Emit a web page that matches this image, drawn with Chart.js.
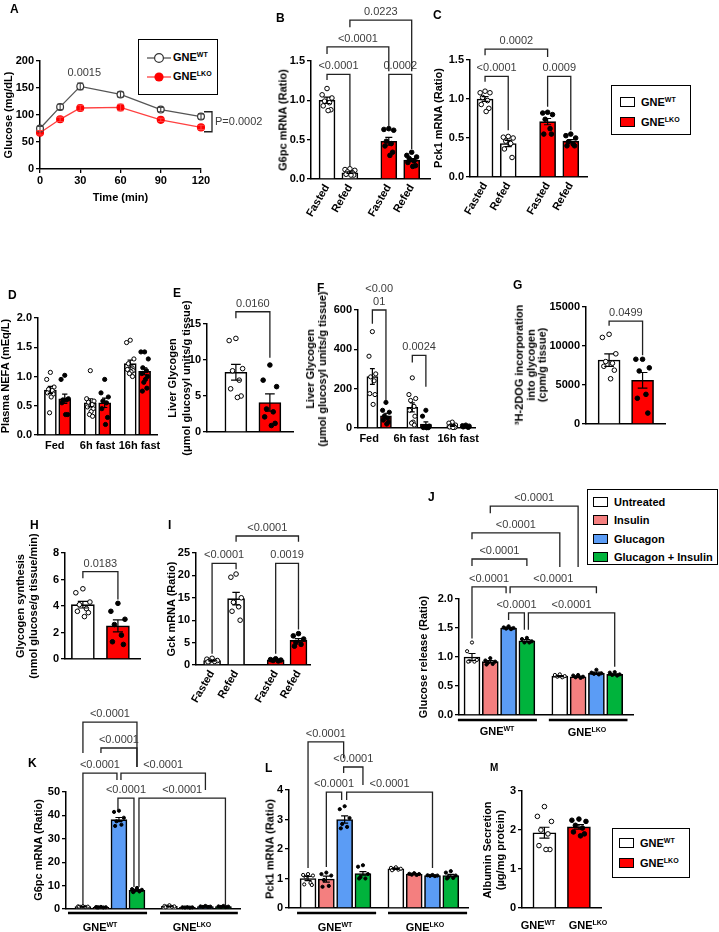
<!DOCTYPE html>
<html>
<head>
<meta charset="utf-8">
<script src="https://cdn.jsdelivr.net/npm/chart.js@4.4.0/dist/chart.umd.min.js"></script>
<style>
  body { margin: 0; background: #fff; font-family: "Liberation Sans", Arial, sans-serif; }
  #fig { position: relative; width: 719px; height: 932px; overflow: hidden; }
  canvas { position: absolute; }
  .pl { position: absolute; font-weight: bold; font-size: 12px; line-height: 1; }
  .yt { position: absolute; font-weight: bold; font-size: 11px; white-space: nowrap; text-align: center;
        transform: translate(-50%, -50%) rotate(-90deg); }
  .gl { position: absolute; font-weight: bold; font-size: 11px; line-height: 1; white-space: nowrap; transform: translate(-50%, -50%); }
  sup { font-size: 7px; vertical-align: top; position: relative; top: -1px; }
  .leg { position: absolute; border: 1.5px solid #000; box-sizing: border-box; background: #fff; }
  .li { position: absolute; font-weight: bold; font-size: 11px; line-height: 1; white-space: nowrap; }
  .sw { position: absolute; width: 15px; height: 10px; border: 1.3px solid #000; box-sizing: border-box; }
</style>
</head>
<body>
<div id="fig"></div>
<script>
// ---------- data ----------
// A: glucose tolerance
const aTime = [0, 15, 30, 60, 90, 120];
const aWT = [75, 115, 153, 138, 110, 97];
const aWTsem = [4, 5, 6, 5, 4, 5];
const aLKO = [67, 92, 113, 114, 91, 77];
const aLKOsem = [4, 4, 5, 6, 3, 4];
const aP = ['0.0015', 'P=0.0002'];

// B: G6pc mRNA (Fasted, Refed)
const fedCats = ['Fasted', 'Refed', 'Fasted', 'Refed'];
const bWT = [1.00, 0.08];
const bWTsem = [0.04, 0.01];
const bLKO = [0.48, 0.24];
const bLKOsem = [0.05, 0.02];
const bWTpts = [[1.15, 1.07, 1.03, 0.99, 0.97, 0.93, 0.88, 0.87], [0.13, 0.12, 0.11, 0.09, 0.08, 0.06, 0.05, 0.05]];
const bLKOpts = [[0.64, 0.63, 0.62, 0.48, 0.45, 0.42, 0.34, 0.30], [0.34, 0.30, 0.28, 0.26, 0.23, 0.21, 0.17, 0.16]];
const bP = ['<0.0001', '0.0002', '<0.0001', '0.0223'];

// C: Pck1 mRNA
const cWT = [1.00, 0.43];
const cWTsem = [0.03, 0.04];
const cLKO = [0.71, 0.46];
const cLKOsem = [0.04, 0.02];
const cWTpts = [[1.10, 1.08, 1.08, 1.02, 0.98, 0.93, 0.88, 0.84], [0.52, 0.51, 0.50, 0.46, 0.43, 0.36, 0.25]];
const cLKOpts = [[0.83, 0.82, 0.80, 0.74, 0.62, 0.55, 0.55], [0.55, 0.53, 0.50, 0.45, 0.42, 0.40, 0.40]];
const cP = ['<0.0001', '0.0009', '0.0002'];

// D: plasma NEFA
const fastCats = ['Fed', '6h fast', '16h fast'];
const dWT = [0.77, 0.55, 1.22];
const dWTsem = [0.06, 0.07, 0.06];
const dLKO = [0.62, 0.55, 1.09];
const dLKOsem = [0.08, 0.08, 0.06];
const dWTpts = [[1.07, 0.95, 0.82, 0.78, 0.76, 0.72, 0.70, 0.65, 0.38],
                [1.10, 0.62, 0.58, 0.56, 0.52, 0.48, 0.45, 0.40, 0.35, 0.32],
                [1.62, 1.58, 1.30, 1.22, 1.15, 1.12, 1.10, 1.08, 1.05, 1.00]];
const dLKOpts = [[1.02, 0.95, 0.62, 0.60, 0.60, 0.55, 0.35, 0.35],
                 [0.95, 0.72, 0.65, 0.58, 0.55, 0.45, 0.30, 0.18],
                 [1.42, 1.42, 1.30, 1.15, 1.10, 1.05, 1.00, 0.95, 0.90, 0.80, 0.75]];

// E: liver glycogen
const eMean = [8.3, 4.1];
const eSem = [1.1, 1.2];
const ePts = [[13.0, 12.7, 8.8, 8.5, 7.2, 6.0, 5.0, 4.8], [9.3, 7.2, 6.3, 3.2, 2.8, 2.1, 1.2, 0.9]];
const eP = ['0.0160'];

// F: liver glycogen over fasting
const fWT = [262, 105, 12];
const fWTsem = [40, 23, 3.5];
const fLKO = [62, 20, 8];
const fLKOsem = [13, 11, 1.5];
const fWTpts = [[490, 365, 275, 260, 240, 175, 170, 120], [255, 170, 150, 140, 110, 90, 60, 30, 25, 15], [30, 25, 15, 10, 8, 5, 3, 2]];
const fLKOpts = [[130, 90, 80, 60, 50, 40, 30, 20], [90, 60, 10, 5, 3, 2, 2, 1], [15, 12, 10, 8, 5, 5, 3]];
const fP = [['<0.00', '01'], '0.0024'];

// G: 3H-2DOG incorporation
const gMean = [8200, 5600];
const gSem = [800, 1000];
const gPts = [[11500, 11100, 9000, 8000, 7800, 7400, 6900, 5800], [8300, 8300, 7200, 6800, 3800, 3300, 1400]];
const gP = ['0.0499'];

// H: glycogen synthesis
const hMean = [4.1, 2.5];
const hSem = [0.25, 0.45];
const hPts = [[5.3, 5.0, 4.3, 4.1, 3.8, 3.6, 3.5, 3.2], [4.2, 3.6, 3.0, 2.6, 1.8, 1.3, 1.1]];
const hP = ['0.0183'];

// I: Gck mRNA
const iWT = [1.0, 14.8];
const iWTsem = [0.12, 1.4];
const iLKO = [1.1, 5.5];
const iLKOsem = [0.1, 0.4];
const iWTpts = [[1.5, 1.3, 1.0, 0.9, 0.8, 0.7], [20.3, 19.6, 15.0, 14.0, 13.0, 12.0, 10.0]];
const iLKOpts = [[1.4, 1.2, 1.1, 1.0, 0.9], [7.0, 6.5, 5.8, 5.0, 4.6, 4.2]];
const iP = ['<0.0001', '0.0019', '<0.0001'];

// J: glucose release (Untreated, Insulin, Glucagon, Glucagon + Insulin)
const treatCats = ['Untreated', 'Insulin', 'Glucagon', 'Glucagon + Insulin'];
const jWT = [1.0, 0.92, 1.50, 1.28];
const jWTsem = [0.06, 0.02, 0.01, 0.02];
const jLKO = [0.67, 0.66, 0.72, 0.70];
const jLKOsem = [0.01, 0.01, 0.02, 0.01];
const jWTpts = [[1.25, 1.10, 0.95, 0.93, 0.92, 0.92], [0.98, 0.94, 0.92, 0.90, 0.88, 0.87], [1.53, 1.51, 1.50, 1.49, 1.48], [1.33, 1.31, 1.27, 1.25, 1.25]];
const jLKOpts = [[0.70, 0.69, 0.67, 0.66, 0.65], [0.69, 0.68, 0.66, 0.65, 0.64], [0.78, 0.73, 0.72, 0.71, 0.70], [0.74, 0.73, 0.70, 0.69, 0.68]];
const jP = ['<0.0001', '<0.0001', '<0.0001', '<0.0001', '<0.0001', '<0.0001', '<0.0001'];

// K: G6pc mRNA in hepatocytes
const kWT = [1.0, 0.75, 38.2, 8.0];
const kWTsem = [0.1, 0.05, 0.9, 0.3];
const kLKO = [1.1, 0.7, 1.0, 1.0];
const kLKOsem = [0.1, 0.05, 0.08, 0.08];
const kWTpts = [[1.2, 1.1, 1.0, 0.9, 0.85, 0.95], [0.9, 0.8, 0.75, 0.7, 0.65, 0.7], [42, 41.5, 39, 37.5, 36, 35.5], [9, 8.5, 8.2, 7.8, 7.5, 7.2]];
const kLKOpts = [[1.6, 1.3, 1.1, 1.0, 0.9, 0.8], [0.8, 0.75, 0.7, 0.65, 0.6], [1.3, 1.1, 1.0, 0.9, 0.9], [1.3, 1.1, 1.0, 0.9, 0.8]];
const kP = ['<0.0001', '<0.0001', '<0.0001', '<0.0001', '<0.0001', '<0.0001'];

// L: Pck1 mRNA in hepatocytes
const lWT = [1.0, 0.98, 3.0, 1.17];
const lWTsem = [0.07, 0.1, 0.12, 0.06];
const lLKO = [1.33, 1.15, 1.1, 1.1];
const lLKOsem = [0.02, 0.01, 0.01, 0.04];
const lWTpts = [[1.15, 1.12, 1.1, 1.05, 0.85, 0.8, 0.78], [1.2, 1.15, 1.1, 0.95, 0.75, 0.72], [3.45, 3.35, 3.05, 2.85, 2.75, 2.7], [1.45, 1.4, 1.15, 1.05, 1.0, 1.0]];
const lLKOpts = [[1.38, 1.36, 1.33, 1.32, 1.3, 1.28], [1.18, 1.16, 1.15, 1.13, 1.12], [1.12, 1.11, 1.1, 1.09, 1.08], [1.25, 1.2, 1.1, 1.05, 1.02, 1.0]];
const lP = ['<0.0001', '<0.0001', '<0.0001', '<0.0001'];

// M: albumin secretion
const mMean = [1.93, 2.08];
const mSem = [0.14, 0.06];
const mPts = [[2.6, 2.35, 2.22, 2.0, 1.9, 1.6, 1.5, 1.5], [2.28, 2.25, 2.22, 2.12, 2.05, 1.95, 1.9, 1.85]];

// ---------- styling ----------
const FONT = '"Liberation Sans", Arial, Helvetica, sans-serif';
const WHITE = '#ffffff', RED = '#ff0000';
const TREAT_COLORS = ['#ffffff', '#f47f7f', '#5b9cf5', '#00b33c'];
const JIT = [0, -0.9, 0.9, -0.45, 0.45, -0.7, 0.7, 0.2, -0.2, 0.55, -0.55];
const fig = document.getElementById('fig');

function canvasAt(left, top, w, h) {
  const cv = document.createElement('canvas');
  cv.width = w; cv.height = h;
  cv.style.left = left + 'px'; cv.style.top = top + 'px';
  cv.style.width = w + 'px'; cv.style.height = h + 'px';
  fig.appendChild(cv);
  return cv;
}

function place(cls, x, y, html, css) {
  const d = document.createElement('div');
  d.className = cls;
  d.style.left = x + 'px';
  d.style.top = y + 'px';
  if (css) d.style.cssText += css;
  d.innerHTML = html;
  fig.appendChild(d);
  return d;
}

function yAxis(min, max, step, dec, yw) {
  return {
    min: min, max: max,
    afterFit: s => { s.width = yw; },
    grid: { display: true, drawOnChartArea: false, drawTicks: true, tickLength: 4, color: '#000', lineWidth: 1.3 },
    border: { display: true, color: '#000', width: 1.5 },
    ticks: { stepSize: step, padding: 2, color: '#000', font: { family: FONT, size: 11, weight: 'bold' },
             callback: v => dec ? v.toFixed(dec) : v }
  };
}

function overlay(p) {
  return {
    id: 'ov',
    afterDatasetsDraw(chart) {
      const ctx = chart.ctx, xs = chart.scales.x, ys = chart.scales.y;
      const px = (i, d) => xs.getPixelForValue(p.xpos[i]) + (d || 0);
      ctx.save();
      // error bars (SEM)
      ctx.strokeStyle = '#000';
      ctx.lineWidth = 1.2;
      p.mean.forEach((m, i) => {
        const x = px(i), c = p.bw * 0.22;
        const lo = ys.getPixelForValue(m - p.sem[i]), hi = ys.getPixelForValue(m + p.sem[i]);
        ctx.beginPath();
        ctx.moveTo(x, lo); ctx.lineTo(x, hi);
        ctx.moveTo(x - c, hi); ctx.lineTo(x + c, hi);
        ctx.moveTo(x - c, lo); ctx.lineTo(x + c, lo);
        ctx.stroke();
      });
      // genotype underlines
      ctx.lineWidth = 2.6;
      (p.groups || []).forEach(g => {
        const y = ys.bottom + p.gy;
        ctx.beginPath();
        ctx.moveTo(xs.getPixelForValue(g[0]), y);
        ctx.lineTo(xs.getPixelForValue(g[1]), y);
        ctx.stroke();
      });
      // significance brackets
      ctx.strokeStyle = '#222';
      ctx.lineWidth = 1.3;
      ctx.fillStyle = '#3c3c3c';
      ctx.font = '11px ' + FONT;
      ctx.textAlign = 'center';
      (p.brackets || []).forEach((b, k) => {
        const xa = px(b.a, b.da), xb = px(b.b, b.db), yt = ys.getPixelForValue(b.y);
        ctx.beginPath();
        ctx.moveTo(xa, ys.getPixelForValue(b.ya));
        ctx.lineTo(xa, yt);
        ctx.lineTo(xb, yt);
        ctx.lineTo(xb, ys.getPixelForValue(b.yb));
        ctx.stroke();
        const lines = [].concat(p.labels[k]);
        lines.forEach((s, j) => ctx.fillText(s, (xa + xb) / 2, yt - 5 - (lines.length - 1 - j) * 13));
      });
      ctx.restore();
    }
  };
}

function barPanel(p) {
  const yw = 48, padR = p.padR || 16;
  const left = p.plot.l - yw, top = p.plot.t - p.padTop;
  const cv = canvasAt(left, top, p.plot.r + padR - left, p.plot.b + p.xh - top);
  const ppu = (p.plot.r - p.plot.l) / (p.xmax - p.xmin);
  const ds = [{
    type: 'bar', order: 5,
    data: p.mean.map((m, i) => ({ x: p.xpos[i], y: m })),
    backgroundColor: p.colors, borderColor: '#000', borderWidth: 1.6, barThickness: p.bw
  }];
  p.pts.forEach((arr, i) => {
    ds.push({
      type: 'scatter', order: 1, clip: false,
      data: arr.map((v, k) => ({ x: p.xpos[i] + JIT[k % JIT.length] * p.bw * 0.34 / ppu, y: v })),
      pointRadius: p.pr || 2.3,
      pointBackgroundColor: p.open[i] ? '#fff' : '#000',
      pointBorderColor: '#000', pointBorderWidth: 1
    });
  });
  const xt = p.xlabels ? p.xticks : null;
  new Chart(cv, {
    type: 'bar',
    data: { datasets: ds },
    options: {
      responsive: false, animation: false, events: [],
      layout: { padding: { top: p.padTop, right: padR, left: 0, bottom: 0 } },
      plugins: { legend: { display: false }, tooltip: { enabled: false } },
      scales: {
        x: {
          type: 'linear', min: p.xmin, max: p.xmax, offset: false,
          grid: { display: false, drawTicks: false },
          border: { display: true, color: '#000', width: 1.5 },
          afterBuildTicks: s => { if (xt) s.ticks = xt.map(v => ({ value: v })); },
          afterFit: s => { s.height = p.xh; },
          ticks: {
            display: !!xt, autoSkip: false, minRotation: p.rot || 0, maxRotation: p.rot || 0,
            padding: p.xpad || 3, color: '#000', font: { family: FONT, size: 11, weight: 'bold' },
            callback: (v, i) => xt ? p.xlabels[i] : ''
          }
        },
        y: yAxis(0, p.ymax, p.ystep, p.ydec, yw)
      }
    },
    plugins: [overlay(p)]
  });
}

// ---------- panel A (line) ----------
(function () {
  const plot = { l: 40, r: 201, t: 61, b: 169 };
  const yw = 48, padTop = 55, padR = 75, xh = 35;
  const left = plot.l - yw, top = plot.t - padTop;
  const cv = canvasAt(left, top, plot.r + padR - left, plot.b + xh - top);
  const sems = [aWTsem, aLKOsem];
  new Chart(cv, {
    type: 'line',
    data: {
      datasets: [
        { data: aTime.map((t, i) => ({ x: t, y: aWT[i] })), borderColor: '#555', borderWidth: 1.3,
          pointRadius: 3.4, pointBackgroundColor: '#fff', pointBorderColor: '#333', pointBorderWidth: 1.2, clip: false },
        { data: aTime.map((t, i) => ({ x: t, y: aLKO[i] })), borderColor: '#ff4040', borderWidth: 1.3,
          pointRadius: 3.4, pointBackgroundColor: RED, pointBorderColor: RED, clip: false }
      ]
    },
    options: {
      responsive: false, animation: false, events: [],
      layout: { padding: { top: padTop, right: padR, left: 0, bottom: 0 } },
      plugins: { legend: { display: false }, tooltip: { enabled: false } },
      scales: {
        x: {
          type: 'linear', min: 0, max: 120,
          afterFit: s => { s.height = xh; },
          grid: { display: true, drawOnChartArea: false, drawTicks: true, tickLength: 4, color: '#000', lineWidth: 1.3 },
          border: { display: true, color: '#000', width: 1.5 },
          ticks: { stepSize: 30, padding: 1, color: '#000', font: { family: FONT, size: 11, weight: 'bold' } },
          title: { display: true, text: 'Time (min)', padding: 0, color: '#000',
                   font: { family: FONT, size: 11, weight: 'bold', lineHeight: '13px' } }
        },
        y: yAxis(0, 200, 50, 0, yw)
      }
    },
    plugins: [{
      id: 'aov',
      afterDatasetsDraw(chart) {
        const ctx = chart.ctx, xs = chart.scales.x, ys = chart.scales.y;
        ctx.save();
        ctx.lineWidth = 1.1;
        [aWT, aLKO].forEach((ser, s) => {
          ctx.strokeStyle = s ? '#ff4040' : '#444';
          ser.forEach((v, i) => {
            const x = xs.getPixelForValue(aTime[i]);
            const lo = ys.getPixelForValue(v - sems[s][i]), hi = ys.getPixelForValue(v + sems[s][i]);
            ctx.beginPath();
            ctx.moveTo(x, lo); ctx.lineTo(x, hi);
            ctx.moveTo(x - 3, hi); ctx.lineTo(x + 3, hi);
            ctx.moveTo(x - 3, lo); ctx.lineTo(x + 3, lo);
            ctx.stroke();
          });
        });
        ctx.fillStyle = '#3c3c3c';
        ctx.font = '11px ' + FONT;
        ctx.textAlign = 'center';
        ctx.fillText(aP[0], xs.getPixelForValue(33), ys.getPixelForValue(180) + 4);
        // bracket between final points
        const x0 = xs.getPixelForValue(120) + 3, x1 = x0 + 8;
        const yTop = ys.getPixelForValue(106), yBot = ys.getPixelForValue(69);
        ctx.strokeStyle = '#222';
        ctx.lineWidth = 1.3;
        ctx.beginPath();
        ctx.moveTo(x0, yTop); ctx.lineTo(x1, yTop); ctx.lineTo(x1, yBot); ctx.lineTo(x0, yBot);
        ctx.stroke();
        ctx.textAlign = 'left';
        ctx.textBaseline = 'middle';
        ctx.fillText(aP[1], x1 + 3, (yTop + yBot) / 2);
        ctx.restore();
      }
    }]
  });
})();

// ---------- bar panels ----------
const pair4 = [0, 1, 2.7, 3.7];
const treat8 = [0, 1, 2, 3, 4.8, 5.8, 6.8, 7.8];
const inter = (a, b) => a.flatMap((v, i) => [v, b[i]]);

barPanel({ // B
  plot: { l: 311, r: 430, t: 61, b: 179 }, padTop: 58, xh: 52,
  xpos: pair4, xmin: -0.7, xmax: 4.5, bw: 16, ymax: 1.5, ystep: 0.5, ydec: 1,
  mean: bWT.concat(bLKO), sem: bWTsem.concat(bLKOsem), pts: bWTpts.concat(bLKOpts),
  colors: [WHITE, WHITE, RED, RED], open: [1, 1, 0, 0],
  xticks: pair4, xlabels: fedCats, rot: 60, xpad: 3,
  labels: bP,
  brackets: [
    { a: 0, b: 1, y: 1.33, ya: 1.26, yb: 0.16 },
    { a: 2, b: 3, y: 1.33, ya: 0.67, yb: 0.38 },
    { a: 0, b: 2, y: 1.68, ya: 1.59, yb: 1.37 },
    { a: 1, b: 3, y: 2.02, ya: 1.93, yb: 1.37 }
  ]
});

barPanel({ // C
  plot: { l: 470, r: 587, t: 60, b: 177 }, padTop: 55, xh: 52,
  xpos: pair4, xmin: -0.65, xmax: 4.4, bw: 16, ymax: 1.5, ystep: 0.5, ydec: 1,
  mean: cWT.concat(cLKO), sem: cWTsem.concat(cLKOsem), pts: cWTpts.concat(cLKOpts),
  colors: [WHITE, WHITE, RED, RED], open: [1, 1, 0, 0],
  xticks: pair4, xlabels: fedCats, rot: 60, xpad: 3,
  labels: cP,
  brackets: [
    { a: 0, b: 1, y: 1.29, ya: 1.22, yb: 0.6 },
    { a: 2, b: 3, y: 1.29, ya: 0.9, yb: 0.6 },
    { a: 0, b: 2, y: 1.64, ya: 1.56, yb: 1.54 }
  ]
});

barPanel({ // D
  plot: { l: 38, r: 157, t: 318, b: 435 }, padTop: 20, xh: 22,
  xpos: [-0.18, 0.18, 0.82, 1.18, 1.82, 2.18], xmin: -0.49, xmax: 2.49, bw: 12, pr: 2.1,
  ymax: 2.0, ystep: 0.5, ydec: 1,
  mean: inter(dWT, dLKO), sem: inter(dWTsem, dLKOsem), pts: inter(dWTpts, dLKOpts),
  colors: [WHITE, RED, WHITE, RED, WHITE, RED], open: [1, 0, 1, 0, 1, 0],
  xticks: [-0.07, 1, 2.05], xlabels: fastCats, xpad: 4
});

barPanel({ // E
  plot: { l: 207, r: 293, t: 324, b: 432 }, padTop: 40, xh: 12,
  xpos: [0, 1], xmin: -0.85, xmax: 1.68, bw: 22, ymax: 15, ystep: 5,
  mean: eMean, sem: eSem, pts: ePts, colors: [WHITE, RED], open: [1, 0],
  labels: eP,
  brackets: [{ a: 0, b: 1, y: 16.7, ya: 15.8, yb: 10.3 }]
});

barPanel({ // F
  plot: { l: 358, r: 475, t: 310, b: 428 }, padTop: 40, xh: 22,
  xpos: [-0.17, 0.17, 0.83, 1.17, 1.83, 2.17], xmin: -0.53, xmax: 2.4, bw: 11, pr: 2.1,
  ymax: 600, ystep: 200,
  mean: inter(fWT, fLKO), sem: inter(fWTsem, fLKOsem), pts: inter(fWTpts, fLKOpts),
  colors: [WHITE, RED, WHITE, RED, WHITE, RED], open: [1, 0, 1, 0, 1, 0],
  xticks: [-0.25, 0.8, 1.98], xlabels: fastCats, xpad: 4,
  labels: fP,
  brackets: [
    { a: 0, b: 1, y: 600, ya: 530, yb: 140 },
    { a: 2, b: 3, y: 369, ya: 333, yb: 210 }
  ]
});

barPanel({ // G
  plot: { l: 586, r: 665, t: 307, b: 424 }, padTop: 40, xh: 12,
  xpos: [0, 1], xmin: -0.69, xmax: 1.67, bw: 22, ymax: 15000, ystep: 5000,
  mean: gMean, sem: gSem, pts: gPts, colors: [WHITE, RED], open: [1, 0],
  labels: gP,
  brackets: [{ a: 0, b: 1, y: 13200, ya: 12600, yb: 8800 }]
});

barPanel({ // H
  plot: { l: 65, r: 140, t: 553, b: 659 }, padTop: 30, xh: 12,
  xpos: [0, 1], xmin: -0.51, xmax: 1.63, bw: 23, ymax: 8, ystep: 2,
  mean: hMean, sem: hSem, pts: hPts, colors: [WHITE, RED], open: [1, 0],
  labels: hP,
  brackets: [{ a: 0, b: 1, y: 6.6, ya: 6.1, yb: 4.5 }]
});

barPanel({ // I
  plot: { l: 196, r: 310, t: 553, b: 665 }, padTop: 45, xh: 50,
  xpos: [0, 1, 2.65, 3.6], xmin: -0.67, xmax: 4.08, bw: 17, ymax: 25, ystep: 5,
  mean: iWT.concat(iLKO), sem: iWTsem.concat(iLKOsem), pts: iWTpts.concat(iLKOpts),
  colors: [WHITE, WHITE, RED, RED], open: [1, 1, 0, 0],
  xticks: [0, 1, 2.65, 3.6], xlabels: fedCats, rot: 60, xpad: 3,
  labels: iP,
  brackets: [
    { a: 0, b: 1, y: 22.7, ya: 2.5, yb: 21.4 },
    { a: 2, b: 3, y: 22.7, ya: 2.5, yb: 7.9 },
    { a: 1, b: 3, y: 28.8, ya: 27.5, yb: 27.5 }
  ]
});

barPanel({ // J
  plot: { l: 459, r: 633, t: 599, b: 715 }, padTop: 130, xh: 12, padR: 10,
  xpos: treat8, xmin: -0.71, xmax: 8.8, bw: 16, pr: 1.6, ymax: 2.0, ystep: 0.5, ydec: 1,
  mean: jWT.concat(jLKO), sem: jWTsem.concat(jLKOsem), pts: jWTpts.concat(jLKOpts),
  colors: TREAT_COLORS.concat(TREAT_COLORS), open: [1, 0, 0, 0, 1, 0, 0, 0],
  groups: [[-0.77, 3.55], [4.2, 8.5]], gy: 5,
  labels: jP,
  brackets: [
    { a: 1, b: 5, y: 3.60, ya: 3.48, yb: 2.55 },
    { a: 0, b: 4, y: 3.14, ya: 3.03, yb: 2.55 },
    { a: 0, b: 3, y: 2.69, ya: 2.57, yb: 2.57 },
    { a: 0, b: 2, db: -2.5, y: 2.21, ya: 1.32, yb: 2.10 },
    { a: 2, da: 1.5, b: 6, y: 2.21, ya: 2.10, yb: 2.10 },
    { a: 2, b: 3, db: -2.5, y: 1.76, ya: 1.64, yb: 1.47 },
    { a: 3, da: 1.5, b: 7, y: 1.76, ya: 1.47, yb: 0.83 }
  ]
});

barPanel({ // K
  plot: { l: 66, r: 240, t: 792, b: 909 }, padTop: 92, xh: 12, padR: 10,
  xpos: treat8, xmin: -0.94, xmax: 8.72, bw: 16, pr: 1.6, ymax: 50, ystep: 10,
  mean: kWT.concat(kLKO), sem: kWTsem.concat(kLKOsem), pts: kWTpts.concat(kLKOpts),
  colors: TREAT_COLORS.concat(TREAT_COLORS), open: [1, 0, 0, 0, 1, 0, 0, 0],
  groups: [[-0.83, 3.56], [4.28, 8.6]], gy: 4,
  labels: kP,
  brackets: [
    { a: 0, b: 3, y: 79.9, ya: 66.7, yb: 60.7 },
    { a: 1, b: 3, y: 68.8, ya: 66.7, yb: 60.7 },
    { a: 0, b: 2, db: -2, y: 58.1, ya: 1.7, yb: 55.1 },
    { a: 2, da: 2, b: 6, y: 58.1, ya: 55.1, yb: 50.9 },
    { a: 2, da: -1, b: 3, db: -3, y: 47.4, ya: 42.3, yb: 9.4 },
    { a: 3, da: 2, b: 7, db: 2, y: 47.4, ya: 9.4, yb: 1.7 }
  ]
});

barPanel({ // L
  plot: { l: 289, r: 468, t: 790, b: 908 }, padTop: 80, xh: 12, padR: 10,
  xpos: treat8, xmin: -1.04, xmax: 8.74, bw: 16, pr: 1.6, ymax: 4, ystep: 1,
  mean: lWT.concat(lLKO), sem: lWTsem.concat(lLKOsem), pts: lWTpts.concat(lLKOpts),
  colors: TREAT_COLORS.concat(TREAT_COLORS), open: [1, 0, 0, 0, 1, 0, 0, 0],
  groups: [[-0.6, 3.72], [4.37, 8.69]], gy: 5,
  labels: lP,
  brackets: [
    { a: 0, b: 2, db: -1, y: 5.63, ya: 1.36, yb: 5.08 },
    { a: 2, da: -1, b: 3, y: 4.78, ya: 4.58, yb: 4.17 },
    { a: 1, b: 2, db: -3, y: 3.93, ya: 1.39, yb: 3.66 },
    { a: 2, da: 2, b: 6, y: 3.93, ya: 3.66, yb: 1.36 }
  ]
});

barPanel({ // M
  plot: { l: 522, r: 601, t: 791, b: 908 }, padTop: 20, xh: 12,
  xpos: [0, 1], xmin: -0.65, xmax: 1.64, bw: 23, ymax: 3, ystep: 1,
  mean: mMean, sem: mSem, pts: mPts, colors: [WHITE, RED], open: [1, 0]
});

// ---------- text: panel letters, axis titles, group labels ----------
[['A', 10, 3], ['B', 276, 12], ['C', 433, 9], ['D', 8, 289], ['E', 173, 287], ['F', 317, 282],
 ['G', 513, 279], ['H', 30, 519], ['I', 168, 519], ['J', 428, 491], ['K', 28, 757], ['L', 265, 762]]
  .forEach(([t, x, y]) => place('pl', x, y, t));
place('pl', 490, 763, 'M', 'font-size:10px');

[[8, 115, 'Glucose (mg/dL)', 13],
 [283, 120, 'G6pc mRNA (Ratio)', 13],
 [438, 118, 'Pck1 mRNA (Ratio)', 13],
 [5, 376, 'Plasma NEFA (mEq/L)', 13],
 [179, 378, 'Liver Glycogen<br>(μmol glucosyl units/g tissue)', 14],
 [316, 369, 'Liver Glycogen<br>(μmol glucosyl units/g tissue)', 12],
 [531, 365, '³H-2DOG incorporation<br>into glycogen<br>(cpm/g tissue)', 11.5],
 [27, 606, 'Glycogen synthesis<br>(nmol glucose/g tissue/min)', 13],
 [171, 609, 'Gck mRNA (Ratio)', 13],
 [423, 657, 'Glucose release (Ratio)', 13],
 [38, 850, 'G6pc mRNA (Ratio)', 13],
 [270, 849, 'Pck1 mRNA (Ratio)', 13],
 [494, 850, 'Albumin Secretion<br>(µg/mg protein)', 13]]
  .forEach(([x, y, t, lh]) => place('yt', x, y, t, 'line-height:' + lh + 'px'));

const WT_HTML = 'GNE<sup>WT</sup>', LKO_HTML = 'GNE<sup>LKO</sup>';
[[497, 731], [100, 927], [335, 927], [538, 925]].forEach(([x, y]) => place('gl', x, y, WT_HTML));
[[587, 732], [192, 927], [425, 927], [588, 925]].forEach(([x, y]) => place('gl', x, y, LKO_HTML));

// ---------- legends ----------
const legA = place('leg', 138, 39, '', 'width:80px;height:56px');
legA.innerHTML =
  '<svg style="position:absolute;left:8px;top:12px" width="24" height="12"><line x1="0" y1="6" x2="24" y2="6" stroke="#555" stroke-width="1.3"/><circle cx="12" cy="6" r="4.4" fill="#fff" stroke="#333" stroke-width="1.2"/></svg>' +
  '<div class="li" style="left:34px;top:12px">' + WT_HTML + '</div>' +
  '<svg style="position:absolute;left:8px;top:31px" width="24" height="12"><line x1="0" y1="6" x2="24" y2="6" stroke="#ff4040" stroke-width="1.3"/><circle cx="12" cy="6" r="4.6" fill="#ff0000"/></svg>' +
  '<div class="li" style="left:34px;top:31px">' + LKO_HTML + '</div>';

function swatchLegend(x, y, w, h, items, dx, dy0, step) {
  const box = place('leg', x, y, '', 'width:' + w + 'px;height:' + h + 'px');
  box.innerHTML = items.map(([c, t], i) =>
    '<div class="sw" style="left:' + dx + 'px;top:' + (dy0 + i * step) + 'px;background:' + c + '"></div>' +
    '<div class="li" style="left:' + (dx + 21) + 'px;top:' + (dy0 + i * step) + 'px">' + t + '</div>').join('');
}
swatchLegend(611, 85, 80, 50, [[WHITE, WT_HTML], [RED, LKO_HTML]], 8, 11, 20);
swatchLegend(612, 828, 78, 50, [[WHITE, WT_HTML], [RED, LKO_HTML]], 6, 9, 20);
swatchLegend(587, 489, 131, 76, treatCats.map((t, i) => [TREAT_COLORS[i], t]), 5, 7, 18.3);
</script>
</body>
</html>
